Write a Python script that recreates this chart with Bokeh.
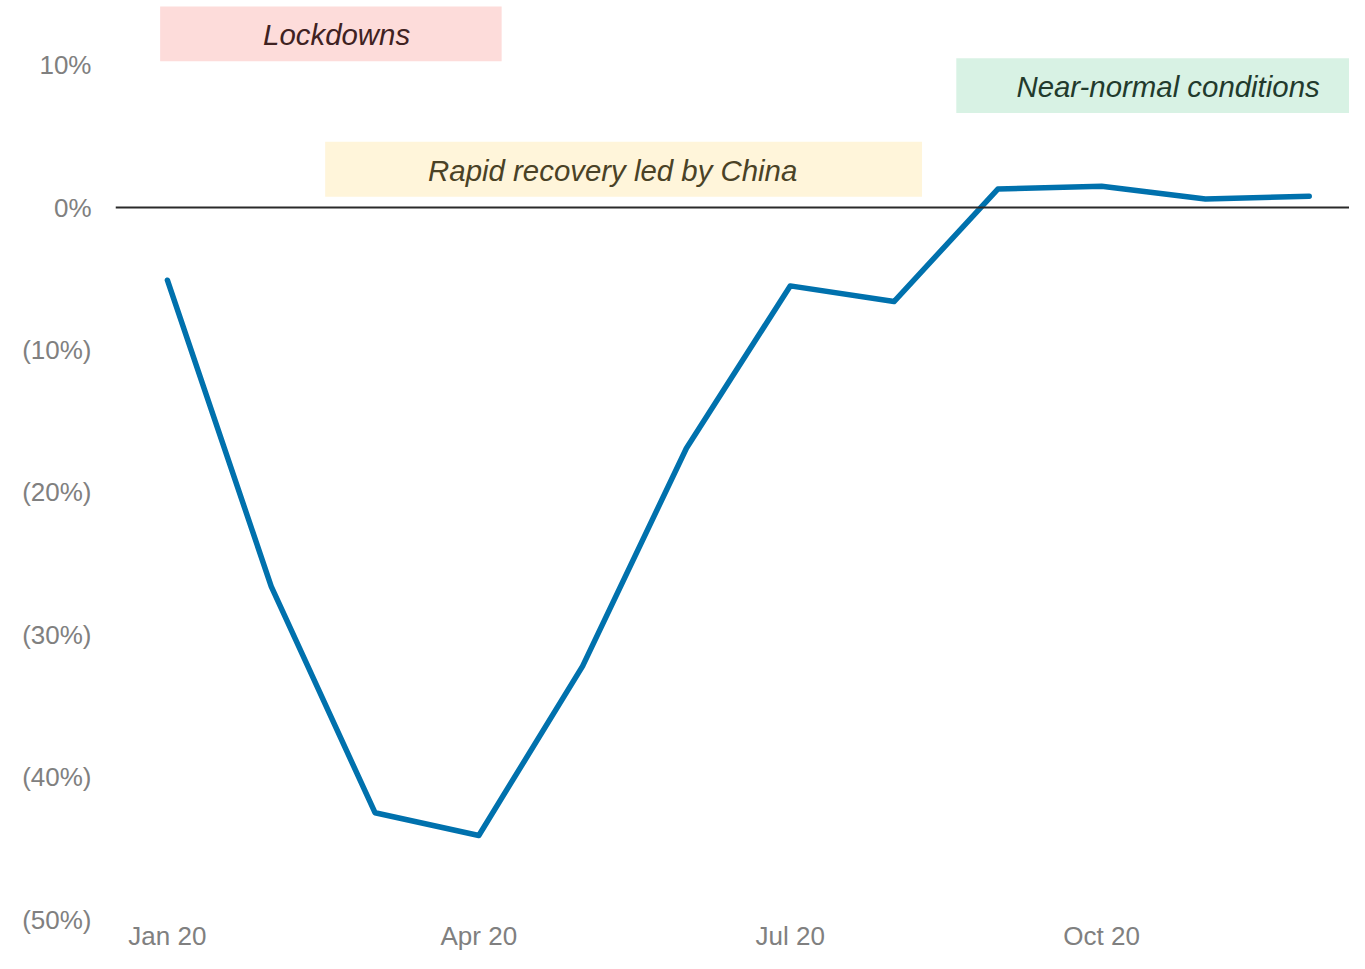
from bokeh.plotting import figure
from bokeh.models import FixedTicker, Span, Range1d, ColumnDataSource
from bokeh.core.properties import value
from bokeh.embed import file_html
from bokeh.resources import INLINE

# Data
month_index = [0, 1, 2, 3, 4, 5, 6, 7, 8, 9, 10, 11]
month_names = ["Jan 20", "Feb 20", "Mar 20", "Apr 20", "May 20", "Jun 20",
               "Jul 20", "Aug 20", "Sep 20", "Oct 20", "Nov 20", "Dec 20"]
change_pct = [-5.1, -26.6, -42.5, -44.1, -32.2, -16.9, -5.5, -6.6, 1.3, 1.5, 0.6, 0.8]

x_tick_pos = [0, 3, 6, 9]
x_tick_labels = ["Jan 20", "Apr 20", "Jul 20", "Oct 20"]
y_tick_pos = [10, 0, -10, -20, -30, -40, -50]
y_tick_labels = ["10%", "0%", "(10%)", "(20%)", "(30%)", "(40%)", "(50%)"]

# Phase annotations (month-index / percent coordinates)
phase_labels = ["Lockdowns", "Rapid recovery led by China", "Near-normal conditions"]
phase_left = [-0.07, 1.52, 7.6]
phase_right = [3.22, 7.27, 11.6]
phase_bottom = [10.28, 0.77, 6.64]
phase_top = [14.13, 4.62, 10.49]
phase_text_x = [1.63, 4.29, 9.64]
phase_text_y = [12.17, 2.59, 8.53]
phase_fill = ["#FDDCDA", "#FFF5DA", "#D8F2E4"]
phase_text_color = ["#3F2222", "#4A4226", "#223A2C"]

p = figure(width=1349, height=953, output_backend="svg", toolbar_location=None,
           x_range=Range1d(-0.5, 11.388), y_range=Range1d(-50.07, 14.545),
           min_border_left=115, min_border_right=0, min_border_top=0,
           min_border_bottom=29)
p.outline_line_color = None
p.background_fill_color = "white"
p.border_fill_color = "white"
p.grid.visible = False

src_box = ColumnDataSource(dict(left=phase_left, right=phase_right, bottom=phase_bottom,
                                top=phase_top, fill=phase_fill))
p.quad(left="left", right="right", bottom="bottom", top="top", fill_color="fill",
       line_color=None, source=src_box)

src_txt = ColumnDataSource(dict(x=phase_text_x, y=phase_text_y, text=phase_labels,
                                color=phase_text_color))
p.text(x="x", y="y", text="text", text_color="color", source=src_txt,
       text_font=value("Liberation Sans"), text_font_style="italic",
       text_font_size="29.4px", text_align="center", text_baseline="middle")

p.add_layout(Span(location=0, dimension="width", line_color="#2a2a2a", line_width=2))

p.line(month_index, change_pct, line_color="#0071AD", line_width=5.5,
       line_cap="round", line_join="round")

for ax in (p.xaxis[0], p.yaxis[0]):
    ax.axis_line_color = None
    ax.major_tick_line_color = None
    ax.minor_tick_line_color = None
    ax.major_tick_out = 0
    ax.major_tick_in = 0
    ax.minor_tick_out = 0
    ax.minor_tick_in = 0
    ax.major_label_text_font = "Liberation Sans"
    ax.major_label_text_font_size = "26px"
    ax.major_label_text_color = "#808080"

p.xaxis.ticker = FixedTicker(ticks=x_tick_pos)
p.xaxis.major_label_overrides = {t: l for t, l in zip(x_tick_pos, x_tick_labels)}
p.xaxis.major_label_standoff = 0
p.yaxis.ticker = FixedTicker(ticks=y_tick_pos)
p.yaxis.major_label_overrides = {t: l for t, l in zip(y_tick_pos, y_tick_labels)}
p.yaxis.major_label_standoff = 24

open("out.html", "w").write(file_html(p, INLINE))
